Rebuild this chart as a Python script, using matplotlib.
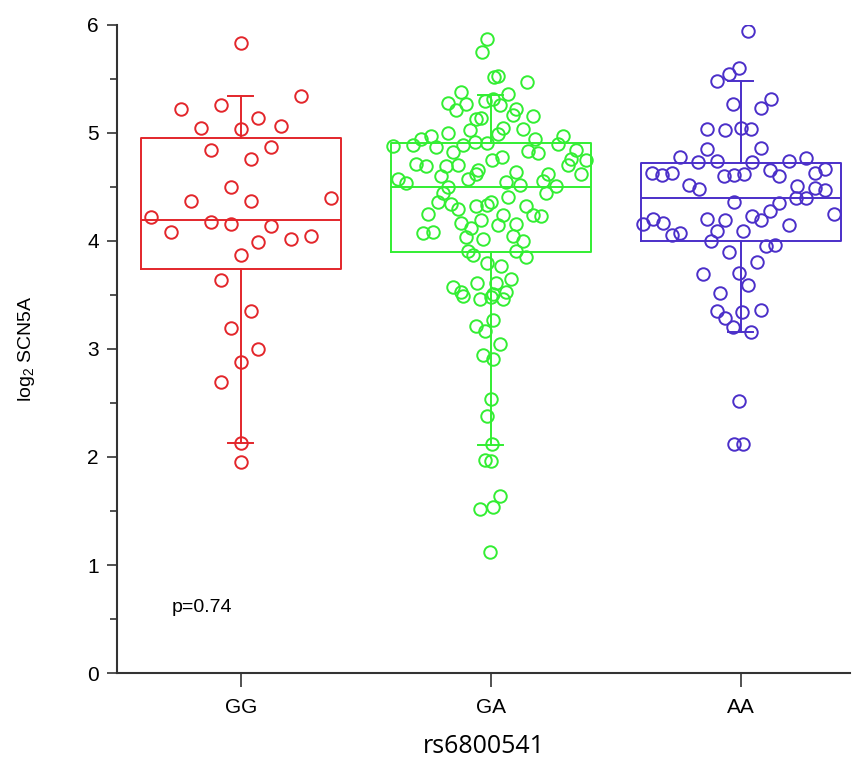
import matplotlib
matplotlib.use("Agg")
import matplotlib.pyplot as plt

plt.rcParams['font.family'] = ['Liberation Sans', 'DejaVu Sans']
plt.rcParams['mathtext.fontset'] = 'custom'
plt.rcParams['mathtext.rm'] = 'Liberation Sans'

genotypes = ['GG', 'GA', 'AA']
colors = ['#e3262b', '#33ee33', '#4b2fc9']

# box stats: whisker low, q1, median, q3, whisker high
box_whislo = [2.13, 2.11, 3.16]
box_q1 = [3.74, 3.90, 4.00]
box_med = [4.19, 4.50, 4.40]
box_q3 = [4.95, 4.91, 4.72]
box_whishi = [5.34, 5.35, 5.48]

# points (value, horizontal jitter in category units)
gg_y = [5.83, 5.22, 5.26, 5.34, 5.14, 5.05, 5.04, 5.06, 4.84, 4.87, 4.76, 4.50,
        4.37, 4.37, 4.40, 4.22, 4.18, 4.16, 4.14, 4.08, 3.99, 4.02, 4.05, 3.87,
        3.64, 3.35, 3.19, 3.00, 2.88, 2.69, 2.13, 1.95]
gg_jitter = [0, -0.24, -0.08, 0.24, 0.07, -0.16, 0, 0.16, -0.12, 0.12, 0.04, -0.04,
             -0.20, 0.04, 0.36, -0.36, -0.12, -0.04, 0.12, -0.28, 0.07, 0.20, 0.28, 0,
             -0.08, 0.04, -0.04, 0.07, 0, -0.08, 0, 0]

ga_y = [5.87, 5.75, 5.52, 5.53, 5.47, 5.38, 5.28, 5.27, 5.21, 5.30, 5.31, 5.36,
        5.26, 5.22, 5.17, 5.16, 5.13, 5.14, 5.03, 5.05, 5.04, 4.99, 5.00, 4.97,
        4.94, 4.89, 4.88, 4.87, 4.89, 4.92, 4.91, 4.94, 4.97, 4.90, 4.83, 4.81,
        4.82, 4.75, 4.78, 4.84, 4.75, 4.76, 4.70, 4.62, 4.71, 4.69, 4.69, 4.70,
        4.66, 4.62, 4.64, 4.60, 4.57, 4.62, 4.56, 4.57, 4.54, 4.55, 4.52, 4.51,
        4.44, 4.50, 4.44, 4.41, 4.36, 4.34, 4.36, 4.33, 4.32, 4.32, 4.30, 4.24,
        4.23, 4.25, 4.24, 4.17, 4.19, 4.15, 4.16, 4.12, 4.07, 4.08, 4.04, 4.02,
        4.05, 4.00, 3.91, 3.87, 3.91, 3.85, 3.80, 3.77, 3.65, 3.61, 3.61, 3.57,
        3.53, 3.49, 3.46, 3.48, 3.51, 3.46, 3.53, 3.27, 3.21, 3.17, 3.05, 2.94,
        2.91, 2.54, 2.38, 2.12, 1.97, 1.96, 1.64, 1.54, 1.52, 1.12]
ga_jitter = [-0.015, -0.035, 0.013, 0.027, 0.145, -0.12, -0.17, -0.10, -0.14, -0.025, 0.01, 0.07,
             0.035, 0.10, 0.09, 0.17, -0.06, -0.04, -0.085, 0.05, 0.13, 0.03, -0.17, -0.24,
             -0.28, -0.31, -0.39, -0.22, -0.11, -0.065, -0.015, 0.175, 0.29, 0.27, 0.15, 0.19,
             -0.15, 0.005, 0.045, 0.34, 0.38, 0.32, 0.31, 0.36, -0.30, -0.26, -0.18, -0.13,
             -0.05, -0.06, 0.10, -0.20, -0.09, 0.23, 0.21, -0.37, -0.34, 0.06, 0.115, 0.26,
             0.22, -0.17, -0.19, 0.07, -0.21, -0.16, 0.0, -0.015, -0.06, 0.14, -0.13, 0.17,
             0.20, -0.25, 0.05, -0.12, -0.04, 0.03, 0.10, -0.08, -0.27, -0.23, -0.10, -0.03,
             0.09, 0.13, -0.09, -0.07, 0.10, 0.14, -0.015, 0.04, 0.08, -0.055, 0.02, -0.15,
             -0.12, -0.11, -0.045, 0.0, 0.01, 0.05, 0.06, 0.01, -0.06, -0.025, 0.035, -0.03,
             0.01, 0, -0.015, 0.005, -0.025, 0, 0.035, 0.01, -0.045, -0.005]

aa_y = [5.94, 5.60, 5.55, 5.48, 5.27, 5.31, 5.23, 5.04, 5.03, 5.05, 5.04, 4.85,
        4.86, 4.78, 4.73, 4.74, 4.73, 4.74, 4.77, 4.63, 4.61, 4.63, 4.60, 4.61,
        4.62, 4.66, 4.60, 4.63, 4.67, 4.52, 4.48, 4.51, 4.49, 4.47, 4.40, 4.40,
        4.36, 4.35, 4.28, 4.19, 4.23, 4.20, 4.19, 4.25, 4.16, 4.20, 4.17, 4.15,
        4.09, 4.06, 4.07, 4.09, 4.00, 3.90, 3.95, 3.96, 3.81, 3.69, 3.70, 3.59,
        3.52, 3.35, 3.29, 3.34, 3.36, 3.20, 3.16, 2.52, 2.12, 2.12]
aa_jitter = [0.027, -0.007, -0.047, -0.097, -0.03, 0.12, 0.08, -0.137, -0.064, 0.0, 0.04, -0.137,
             0.08, -0.244, -0.173, -0.097, 0.043, 0.19, 0.26, -0.355, -0.315, -0.277, -0.067, -0.027,
             0.012, 0.116, 0.152, 0.296, 0.336, -0.208, -0.168, 0.225, 0.296, 0.336, 0.22, 0.26,
             -0.027, 0.152, 0.116, 0.08, 0.043, -0.137, -0.064, 0.37, -0.39, -0.35, -0.313, 0.19,
             -0.097, -0.277, -0.244, 0.007, -0.12, -0.047, 0.10, 0.136, 0.065, -0.153, -0.008, 0.027,
             -0.084, -0.097, -0.064, 0.005, 0.08, -0.03, 0.04, -0.008, -0.027, 0.01]

p_text = 'p=0.74'

fig = plt.figure(figsize=(8.53, 7.66), dpi=100)
ax = fig.add_axes([0.137, 0.1214, 0.8595, 0.846])

points = [(gg_y, gg_jitter), (ga_y, ga_jitter), (aa_y, aa_jitter)]
for i, (ys, jit) in enumerate(points):
    xs = [i + 1 + j for j in jit]
    ax.plot(xs, ys, linestyle='none', marker='o', markersize=9,
            markerfacecolor='none', markeredgecolor=colors[i], markeredgewidth=1.4)

for i in range(3):
    stats = [dict(med=box_med[i], q1=box_q1[i], q3=box_q3[i],
                  whislo=box_whislo[i], whishi=box_whishi[i], fliers=[])]
    lp = dict(color=colors[i], linewidth=1.4)
    ax.bxp(stats, positions=[i + 1], widths=0.8, capwidths=0.1,
           boxprops=lp, whiskerprops=lp, capprops=lp, medianprops=lp,
           showfliers=False, manage_ticks=False)

ax.set_xlim(0.504, 3.436)
ax.set_ylim(0, 6)
ax.set_xticks([1, 2, 3])
ax.set_xticklabels(genotypes, fontsize=15)
ax.set_yticks(range(7))
ax.set_yticks([0.5, 1.5, 2.5, 3.5, 4.5, 5.5], minor=True)
ax.tick_params(axis='y', which='major', length=7, width=1.2, labelsize=15, colors='#333333', labelcolor='black', pad=6)
ax.tick_params(axis='y', which='minor', length=5, width=1.2, colors='#333333')
ax.tick_params(axis='x', which='major', length=10, width=1.2, labelsize=15, colors='#333333', labelcolor='black', pad=8)

for side in ['top', 'right']:
    ax.spines[side].set_visible(False)
for side in ['left', 'bottom']:
    ax.spines[side].set_linewidth(1.5)
    ax.spines[side].set_color('#333333')

ax.set_ylabel('log$_2$ SCN5A', fontsize=14, labelpad=36)
ax.set_xlabel('rs6800541', fontsize=18, family='Open Sans', labelpad=12)
ax.text(0.724, 0.61, p_text, fontsize=14, ha='left', va='center')

fig.savefig('out.png', dpi=100)
